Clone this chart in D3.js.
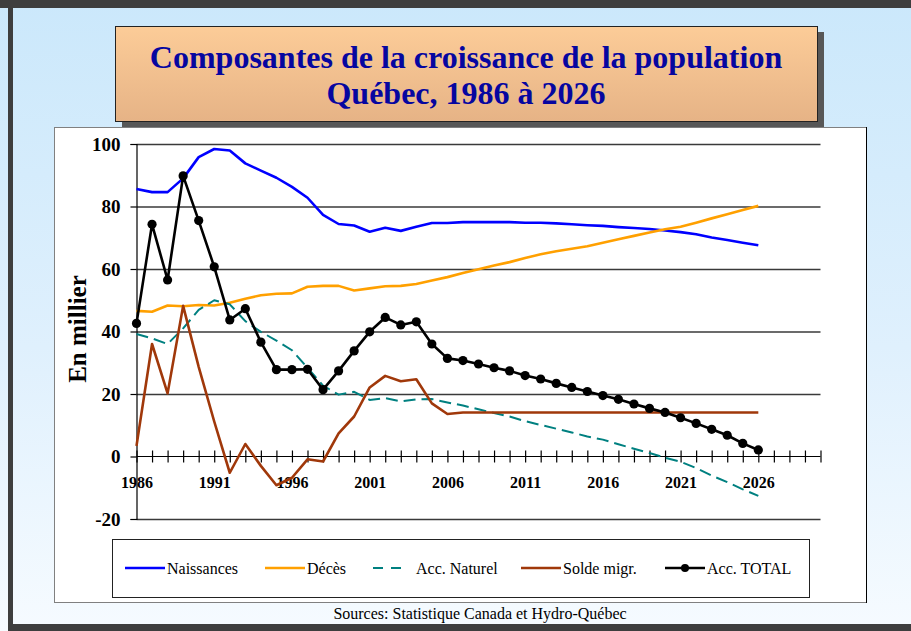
<!DOCTYPE html>
<html>
<head>
<meta charset="utf-8">
<script src="https://cdn.jsdelivr.net/npm/d3@7"></script>
<style>
  html, body { margin: 0; padding: 0; background: #ffffff; }
  svg { display: block; }
</style>
</head>
<body>
<svg id="chart" width="911" height="631"></svg>
<script>
const years = [1986,1987,1988,1989,1990,1991,1992,1993,1994,1995,1996,1997,1998,1999,2000,
  2001,2002,2003,2004,2005,2006,2007,2008,2009,2010,2011,2012,2013,2014,2015,2016,2017,2018,
  2019,2020,2021,2022,2023,2024,2025,2026];
const naissances = [85.6,84.6,84.6,89.0,95.8,98.4,97.9,93.8,91.5,89.2,86.3,82.8,77.3,74.4,73.9,
  71.9,73.2,72.2,73.5,74.7,74.7,75.0,75.0,75.0,75.0,74.8,74.8,74.6,74.3,74.0,73.8,73.4,73.1,
  72.8,72.3,71.8,71.1,70.1,69.3,68.4,67.6];
const deces = [46.6,46.3,48.3,48.1,48.5,48.3,49.2,50.5,51.6,52.1,52.2,54.3,54.6,54.6,53.1,
  53.8,54.5,54.6,55.2,56.3,57.4,58.7,59.9,61.1,62.2,63.5,64.7,65.7,66.5,67.3,68.4,69.5,70.6,
  71.7,72.7,73.5,74.8,76.2,77.5,78.9,80.2];
const accNaturel = [39.2,37.8,36.0,41.0,46.9,50.0,48.7,43.3,39.9,37.1,34.0,28.4,22.7,19.8,20.7,
  18.1,18.7,17.6,18.3,18.4,17.3,16.3,15.1,13.9,12.8,11.3,10.1,8.9,7.7,6.4,5.4,3.9,2.5,
  1.1,-0.4,-1.7,-3.7,-6.1,-8.2,-10.5,-12.6];
const soldeMigr = [3.4,36.0,20.2,48.2,28.7,11.2,-5.2,4.0,-3.0,-9.2,-6.8,-0.9,-1.6,7.4,12.8,
  22.1,25.8,24.1,24.7,17.0,13.6,14.1,14.1,14.1,14.1,14.1,14.1,14.1,14.1,14.1,14.1,14.1,14.1,
  14.1,14.1,14.1,14.1,14.1,14.1,14.1,14.1];
const accTotal = [42.6,74.3,56.5,89.8,75.5,60.7,43.7,47.3,36.6,27.8,27.8,27.9,21.4,27.4,33.8,
  39.9,44.5,42.1,43.1,36.0,31.4,30.7,29.6,28.4,27.4,25.9,24.8,23.4,22.1,20.8,19.5,18.3,16.8,
  15.4,14.1,12.4,10.6,8.7,6.8,4.2,2.1];
const axisTicks = [1986,1987,1988,1989,1990,1991,1992,1993,1994,1995,1996,1997,1998,1999,2000,
  2001,2002,2003,2004,2005,2006,2007,2008,2009,2010,2011,2012,2013,2014,2015,2016,2017,2018,
  2019,2020,2021,2022,2023,2024,2025,2026,2027,2028,2029,2030];
const xLabels = [1986,1991,1996,2001,2006,2011,2016,2021,2026];
const yTicks = [-20,0,20,40,60,80,100];
const titleLines = ["Composantes de la croissance de la population", "Québec, 1986 à 2026"];
const yTitle = "En millier";
const source = "Sources: Statistique Canada et Hydro-Québec";

const seriesDefs = [
  {name: "Naissances", values: naissances, color: "#0000ff", dash: null, marker: false},
  {name: "Décès", values: deces, color: "#ffa000", dash: null, marker: false},
  {name: "Acc. Naturel", values: accNaturel, color: "#008080", dash: "12,6", marker: false},
  {name: "Solde migr.", values: soldeMigr, color: "#a0380a", dash: null, marker: false},
  {name: "Acc. TOTAL", values: accTotal, color: "#000000", dash: null, marker: true}
];

const svg = d3.select("#chart");
const defs = svg.append("defs");
const bg = defs.append("linearGradient").attr("id","bgGrad").attr("x1",0).attr("y1",0).attr("x2",0).attr("y2",1);
bg.append("stop").attr("offset","0%").attr("stop-color","#cbe8fb");
bg.append("stop").attr("offset","55%").attr("stop-color","#dff0fd");
bg.append("stop").attr("offset","100%").attr("stop-color","#f6fbff");
const tg = defs.append("linearGradient").attr("id","titleGrad").attr("x1",0).attr("y1",0).attr("x2",0).attr("y2",1);
tg.append("stop").attr("offset","0%").attr("stop-color","#fccc98");
tg.append("stop").attr("offset","100%").attr("stop-color","#e6b386");

// Frame and background
svg.append("rect").attr("x",0).attr("y",0).attr("width",911).attr("height",631).attr("fill","url(#bgGrad)");
svg.append("rect").attr("x",0).attr("y",0).attr("width",911).attr("height",8).attr("fill","#3e3e3e");
svg.append("rect").attr("x",8).attr("y",0).attr("width",5).attr("height",631).attr("fill","#3e3e3e");
svg.append("rect").attr("x",8).attr("y",624).attr("width",903).attr("height",7).attr("fill","#3e3e3e");

// Title box
svg.append("rect").attr("x",122).attr("y",32).attr("width",702).attr("height",95).attr("fill","#575757");
svg.append("rect").attr("x",115.5).attr("y",26.5).attr("width",702).attr("height",95)
  .attr("fill","url(#titleGrad)").attr("stroke","#222").attr("stroke-width",1);
svg.append("g").selectAll("text").data(titleLines).join("text")
  .attr("x",466).attr("y",(d,i)=>68 + i*36)
  .attr("text-anchor","middle")
  .attr("font-family","'Liberation Serif','Times New Roman',serif")
  .attr("font-weight","bold").attr("font-size",32).attr("fill","#0606a0")
  .text(d=>d);

// White chart panel
svg.append("rect").attr("x",54.5).attr("y",127.5).attr("width",812).attr("height",475)
  .attr("fill","#ffffff").attr("stroke","#808080").attr("stroke-width",1);
svg.append("line").attr("x1",866.5).attr("x2",866.5).attr("y1",127).attr("y2",603).attr("stroke","#000");

// Scales
const x = d3.scaleLinear().domain([1986, 2030]).range([136.5, 820.5]);
const y = d3.scaleLinear().domain([-20, 100]).range([519, 144]);

// Gridlines
const grid = svg.append("g").attr("transform","translate(136.5,0)")
  .call(d3.axisLeft(y).tickValues(yTicks.filter(v=>v!==0)).tickSize(-684).tickFormat(""));
grid.select(".domain").remove();
grid.selectAll("line").attr("stroke","#3a3a3a").attr("stroke-width",1.3);

// Y axis
const yAxis = svg.append("g").attr("transform","translate(136.5,0)")
  .call(d3.axisLeft(y).tickValues(yTicks).tickSize(6).tickPadding(10).tickFormat(d => String(d)));
yAxis.select(".domain").attr("stroke","#000").attr("stroke-width",1.2);
yAxis.selectAll("line").attr("stroke","#000").attr("stroke-width",1.2);
yAxis.selectAll("text").attr("font-family","'Liberation Serif','Times New Roman',serif")
  .attr("font-weight","bold").attr("font-size",19).attr("fill","#000");

// X axis (crossing at zero)
const xAxis = svg.append("g").attr("transform",`translate(0,${y(0)})`)
  .call(d3.axisBottom(x).tickValues(axisTicks).tickSize(6)
    .tickFormat(d => xLabels.includes(d) ? String(d) : ""));
xAxis.select(".domain").attr("d",`M${x(1986)},0H${x(2030)}`).attr("stroke","#000").attr("stroke-width",1.2);
xAxis.selectAll(".tick line").attr("y1",-6).attr("y2",6).attr("stroke","#000").attr("stroke-width",1.2);
xAxis.selectAll("text").attr("y",31).attr("dy",0)
  .attr("font-family","'Liberation Serif','Times New Roman',serif")
  .attr("font-weight","bold").attr("font-size",16).attr("fill","#000");

// Y title
svg.append("text").attr("transform","translate(86,329) rotate(-90)")
  .attr("text-anchor","middle")
  .attr("font-family","'Liberation Serif','Times New Roman',serif")
  .attr("font-weight","bold").attr("font-size",25).attr("fill","#000")
  .text(yTitle);

// Series
const line = d3.line().x((d,i)=>x(years[i])).y(d=>y(d));
const plot = svg.append("g");
seriesDefs.forEach(s => {
  plot.append("path").datum(s.values).attr("d", line)
    .attr("fill","none").attr("stroke", s.color)
    .attr("stroke-width", s.dash ? 2 : 2.6)
    .attr("stroke-dasharray", s.dash)
    .attr("stroke-linejoin","round");
  if (s.marker) {
    plot.append("g").selectAll("circle").data(s.values).join("circle")
      .attr("cx",(d,i)=>x(years[i])).attr("cy",d=>y(d)).attr("r",4.6).attr("fill",s.color);
  }
});

// Legend
svg.append("rect").attr("x",112.5).attr("y",539.5).attr("width",697).attr("height",58)
  .attr("fill","#fff").attr("stroke","#222").attr("stroke-width",1);
const legendPos = [125, 265, 373, 521, 665];
const legendLen = [40, 40, 33, 40, 40];
const legendTextX = [167, 307, 416, 563, 707];
const lg = svg.append("g");
seriesDefs.forEach((s,i) => {
  lg.append("line").attr("x1",legendPos[i]).attr("x2",legendPos[i]+legendLen[i])
    .attr("y1",568).attr("y2",568).attr("stroke",s.color)
    .attr("stroke-width", s.dash ? 2 : 2.6).attr("stroke-dasharray", s.dash ? "10,8" : null);
  if (s.marker) lg.append("circle").attr("cx",legendPos[i]+legendLen[i]/2).attr("cy",568).attr("r",4).attr("fill",s.color);
  lg.append("text").attr("x",legendTextX[i]).attr("y",574)
    .attr("font-family","'Liberation Serif','Times New Roman',serif")
    .attr("font-size",16).attr("fill","#000").text(s.name);
});

// Source
svg.append("text").attr("x",480).attr("y",619).attr("text-anchor","middle")
  .attr("font-family","'Liberation Serif','Times New Roman',serif")
  .attr("font-size",16).attr("fill","#000").text(source);
</script>
</body>
</html>
